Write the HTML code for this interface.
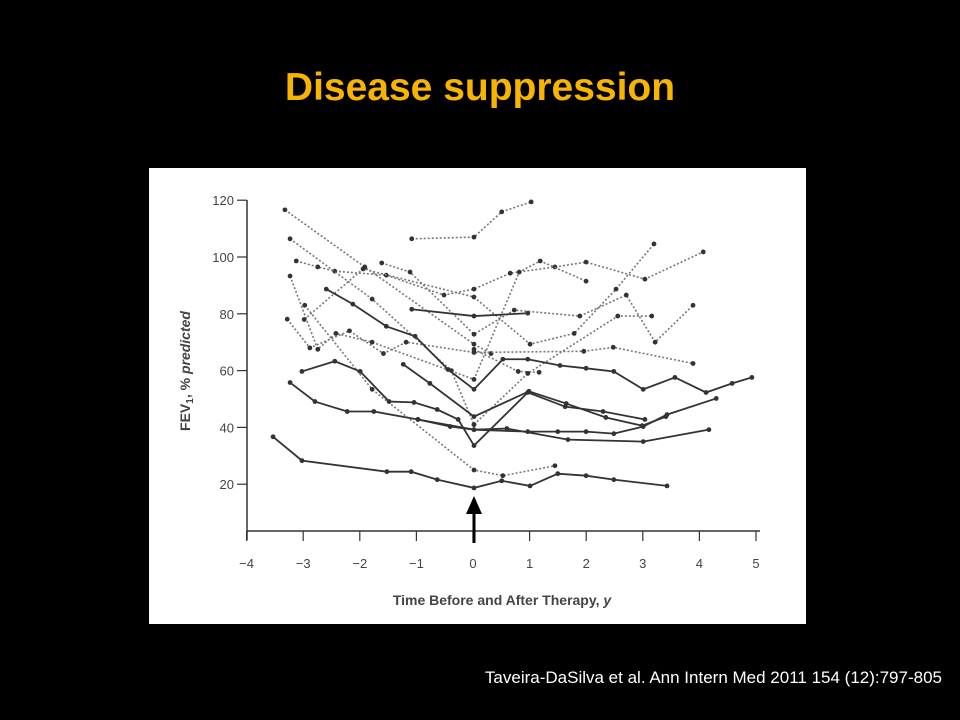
<!DOCTYPE html>
<html><head><meta charset="utf-8"><style>
body{margin:0;background:#000;width:960px;height:720px;overflow:hidden;position:relative;font-family:"Liberation Sans",sans-serif}
#title{position:absolute;left:0;width:960px;top:66px;text-align:center;color:#f7b500;font-weight:bold;font-size:39px}
#cite{position:absolute;right:18px;top:668px;color:#fff;font-size:17px}
#chart{position:absolute;left:149px;top:168px}
</style></head><body>
<div id="title">Disease suppression</div>
<svg id="chart" width="657" height="456" viewBox="149 168 657 456">
<rect x="149" y="168" width="657" height="456" fill="#fff"/>
<g id="axes"></g><g id="series"></g>
<text x="190" y="371" transform="rotate(-90 190 371)" text-anchor="middle" font-size="14" font-weight="bold" fill="#444">FEV<tspan font-size="10" dy="3">1</tspan><tspan dy="-3">, % </tspan><tspan font-style="italic">predicted</tspan></text>
<text x="502" y="605" text-anchor="middle" font-size="14" font-weight="bold" fill="#444">Time Before and After Therapy, <tspan font-style="italic">y</tspan></text>
<line x1="474" y1="543" x2="474" y2="512" stroke="#000" stroke-width="3"/>
<polygon points="466,514 482,514 474,496" fill="#000"/>
</svg>
<div id="cite">Taveira-DaSilva et al. Ann Intern Med 2011 154 (12):797-805</div>
<script>
const xTicks=[-4,-3,-2,-1,0,1,2,3,4,5];
const yTicks=[20,40,60,80,100,120];
const solidSeries=[
[[-3.55,36.7],[-3.04,28.3],[-1.54,24.4],[-1.11,24.4],[-0.65,21.6],[0,18.7],[0.49,21.2],[0.99,19.4],[1.48,23.7],[1.98,23],[2.47,21.6],[3.41,19.4]],
[[-3.25,55.8],[-2.81,49.1],[-2.24,45.6],[-1.77,45.6],[-0.99,42.8],[-0.42,40.3],[0,39.2],[0.95,38.5],[1.48,38.5],[1.98,38.5],[2.47,37.8],[2.99,40.3],[3.41,44.5],[4.28,50.2]],
[[-3.04,59.7],[-2.46,63.3],[-2.01,59.7],[-1.5,49.1],[-1.06,48.8],[-0.65,46.3],[-0.28,42.8],[0,33.6],[0.95,52.3],[1.61,47.3],[2.28,45.6],[3.02,42.8]],
[[-2.61,88.7],[-2.14,83.4],[-1.55,75.6],[-1.04,72.1],[-0.46,60.4],[0,53.4],[0.51,64],[0.95,64],[1.52,61.8],[1.98,60.8],[2.47,59.7],[2.99,53.4],[3.55,57.6],[4.1,52.3],[4.56,55.5],[4.91,57.6]],
[[-1.1,81.6],[0,79.2],[0.95,80.2]],
[[-1.25,62.2],[-0.78,55.5],[0,43.8],[0.97,52.7],[1.63,48.4],[2.33,43.5],[2.97,40.6],[3.39,43.8]],
[[-0.99,42.8],[0,39.2],[0.58,39.6],[1.66,35.7],[2.99,35],[4.15,39.2]]
];
const dottedSeries=[
[[-1.1,106.4],[0,107],[0.49,115.9],[1.01,119.4]],
[[-3.34,116.6],[-1.93,96.5],[0,69.3],[0.3,66]],
[[-3.14,98.6],[-2.76,96.5],[-2.46,95],[-1.55,93.6],[-0.53,86.6],[0,88.7],[0.64,94.3],[1.43,96.5],[1.98,98.2],[3.02,92.2],[4.05,101.8]],
[[-3.25,93.3],[-2.76,67.5],[-2.44,73.1],[-1.8,70],[0,56.9],[0.8,94.7],[1.17,98.6],[1.98,91.5]],
[[-3.3,78.1],[-2.9,68],[-2.2,74],[-1.6,66],[-1.2,70],[0,66.4],[1.94,66.8],[2.46,68.2],[3.87,62.5]],
[[-2.99,83],[-1.8,53.4],[0,25],[0.51,23],[1.43,26.5]],
[[-3.0,78],[-1.96,95.8],[0,85.9],[0.99,69.3],[1.77,73.1],[2.51,88.7],[3.18,104.6]],
[[-1.63,97.9],[-1.13,94.7],[0,72.8],[0.71,81.3],[1.87,79.2],[2.69,86.6],[3.2,70],[3.87,83]],
[[0,67.5],[0.78,59.7],[1.15,59.4]],
[[-3.25,106.4],[-1.8,85.2],[-0.4,60],[0,41]],
[[0,41],[0.95,59],[2.54,79.2],[3.14,79.2]]
];
const xs=t=>474+56.6*t, ys=v=>541-2.84*v;
const NS='http://www.w3.org/2000/svg';
const ax=document.getElementById('axes'), sg=document.getElementById('series');
function mk(tag,attrs,parent){const e=document.createElementNS(NS,tag);for(const k in attrs)e.setAttribute(k,attrs[k]);parent.appendChild(e);return e;}
let l=mk('line',{x1:247,y1:200,x2:247,y2:540,stroke:'#333','stroke-width':1.5},ax);


l=mk('line',{x1:247,y1:531,x2:760,y2:531,stroke:'#333','stroke-width':1.5},ax);


yTicks.forEach(v=>{const y=ys(v);
 mk('line',{x1:237,y1:y,x2:247,y2:y,stroke:'#333','stroke-width':1.2},ax);
 const t=mk('text',{x:234,y:y+5,'text-anchor':'end','font-size':13,fill:'#444'},ax);t.textContent=v;
 
 });
xTicks.forEach(v=>{const x=xs(v)-1;
 mk('line',{x1:x,y1:531,x2:x,y2:541,stroke:'#333','stroke-width':1.2},ax);
 const t=mk('text',{x:x,y:568,'text-anchor':'middle','font-size':13,fill:'#444'},ax);t.textContent=(v<0?'\u2212'+(-v):v);
 
 });
function draw(arr,dotted,name){arr.forEach((s,i)=>{
 const p=mk('polyline',{points:s.map(d=>xs(d[0])+','+ys(d[1])).join(' '),fill:'none',stroke:dotted?'#777':'#333','stroke-width':dotted?1.6:1.8,'stroke-dasharray':dotted?'2 2':'none'},sg);
 
 
 s.forEach(d=>{const c=mk('circle',{cx:xs(d[0]),cy:ys(d[1]),r:2.4,fill:'#333'},sg);
  
  });});}
draw(dottedSeries,true,'dotted-patient-line');
draw(solidSeries,false,'solid-patient-line');
</script>
</body></html>
